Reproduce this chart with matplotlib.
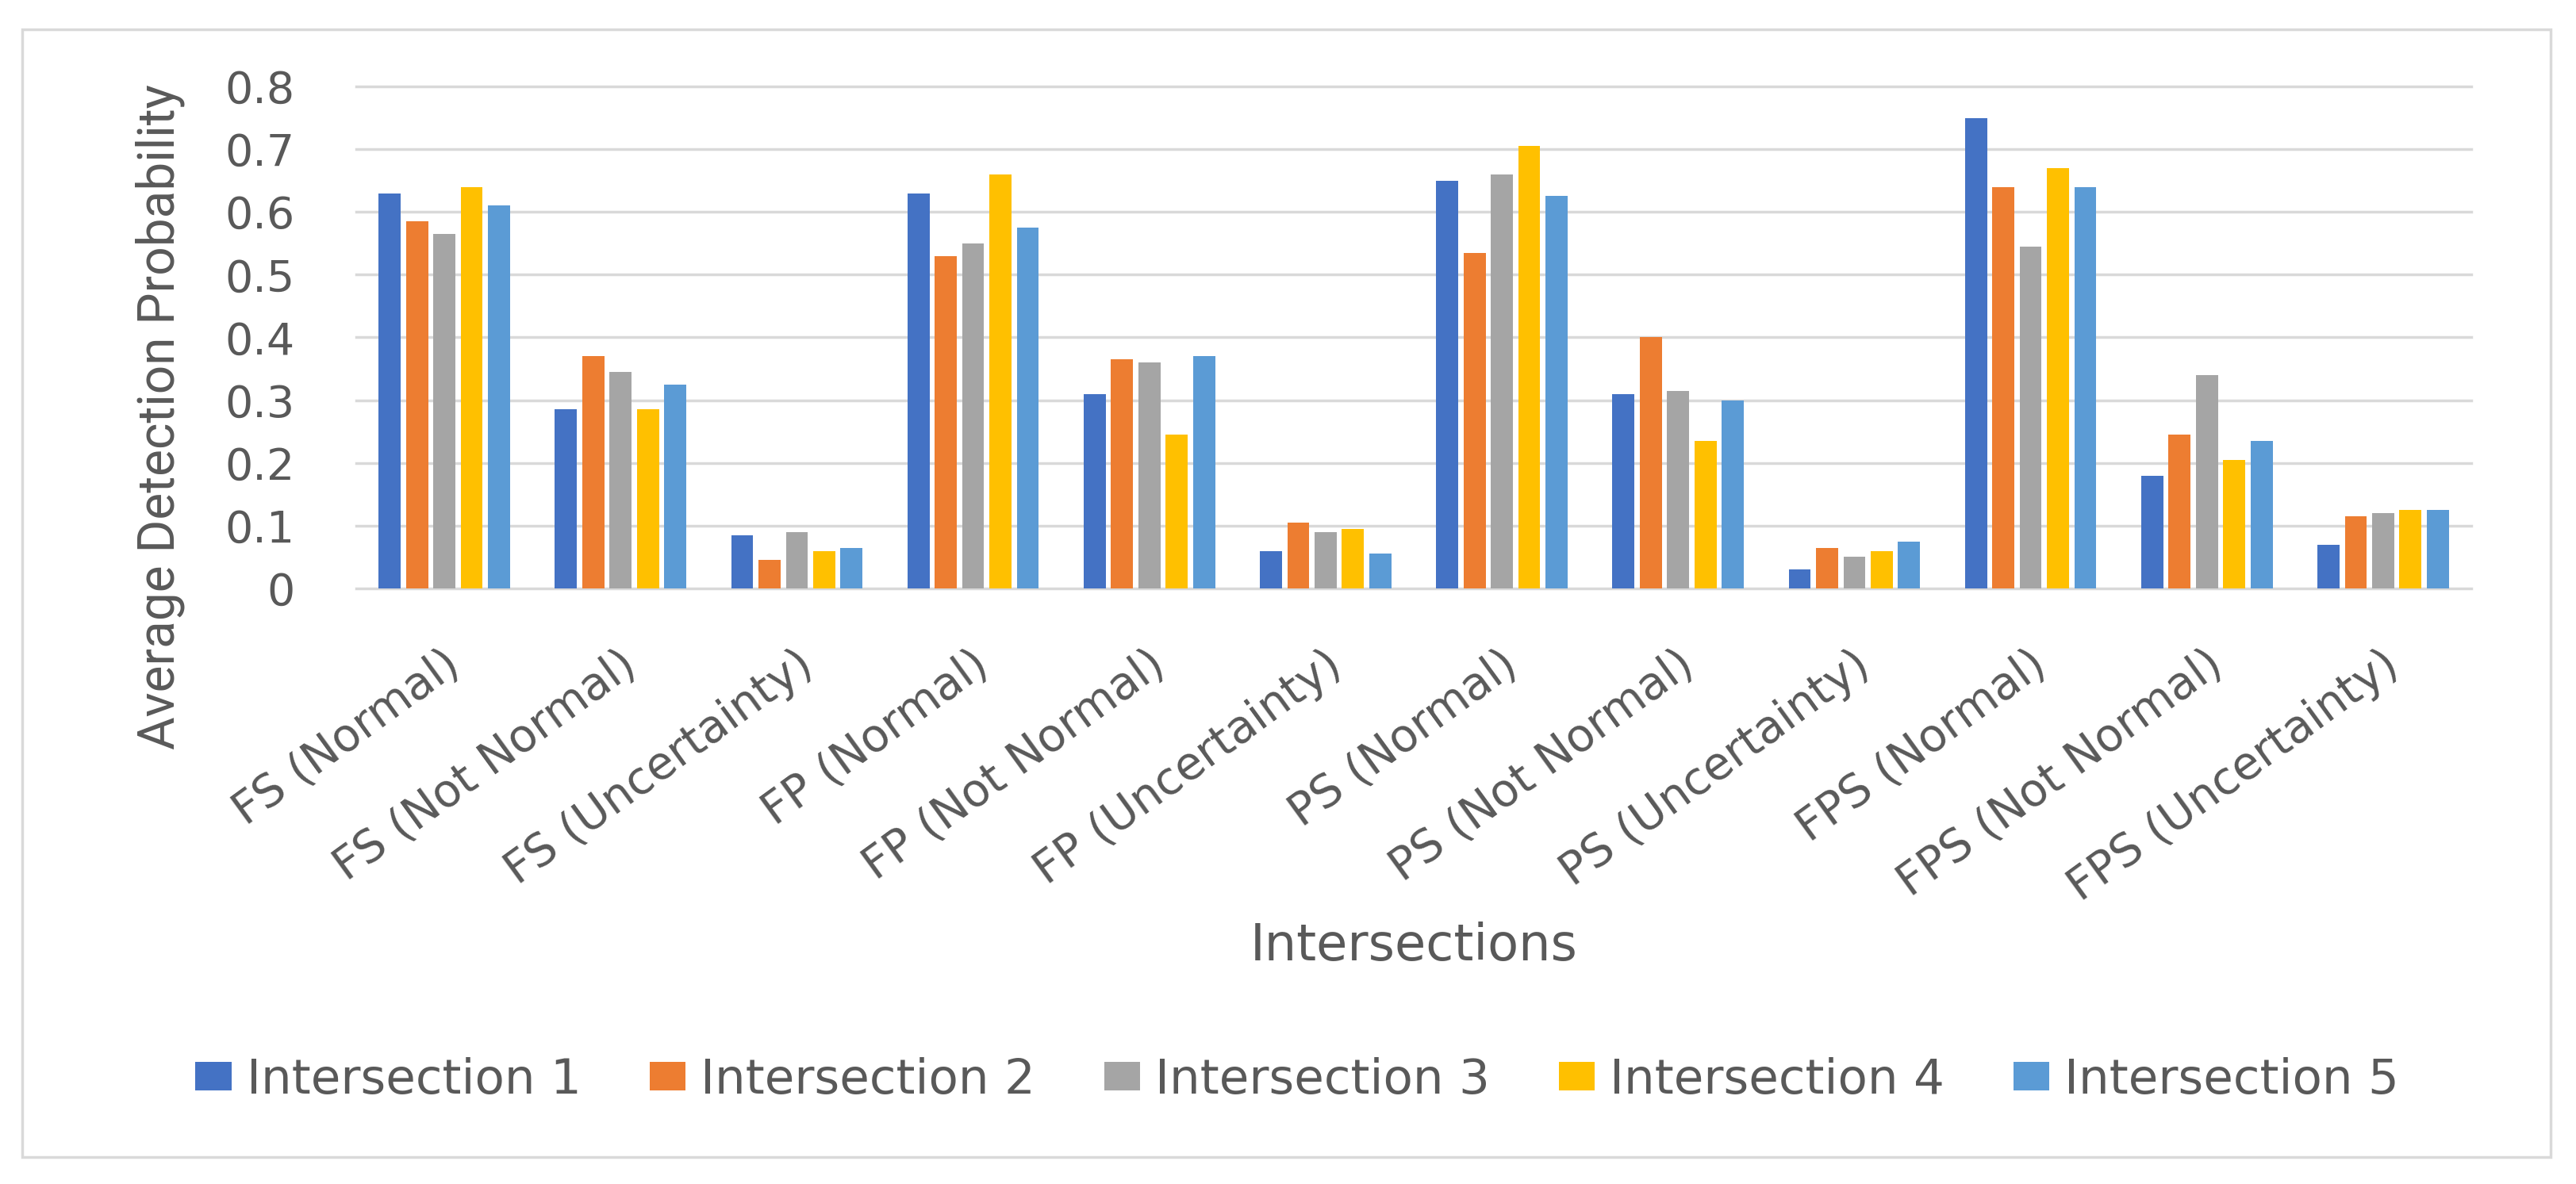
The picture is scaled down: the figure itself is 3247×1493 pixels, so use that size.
import matplotlib
matplotlib.use("Agg")
import matplotlib.pyplot as plt
import numpy as np
from matplotlib.patches import Rectangle, Patch
from matplotlib.transforms import ScaledTranslation
from matplotlib import font_manager

# ---------------- data ----------------
categories = ["FS (Normal)", "FS (Not Normal)", "FS (Uncertainty)",
              "FP (Normal)", "FP (Not Normal)", "FP (Uncertainty)",
              "PS (Normal)", "PS (Not Normal)", "PS (Uncertainty)",
              "FPS (Normal)", "FPS (Not Normal)", "FPS (Uncertainty)"]
series_names = ["Intersection 1", "Intersection 2", "Intersection 3",
                "Intersection 4", "Intersection 5"]
intersection1 = [0.63, 0.285, 0.085, 0.63, 0.31, 0.06, 0.65, 0.31, 0.03, 0.75, 0.18, 0.07]
intersection2 = [0.585, 0.37, 0.045, 0.53, 0.365, 0.105, 0.535, 0.40, 0.065, 0.64, 0.245, 0.115]
intersection3 = [0.565, 0.345, 0.09, 0.55, 0.36, 0.09, 0.66, 0.315, 0.05, 0.545, 0.34, 0.12]
intersection4 = [0.64, 0.285, 0.06, 0.66, 0.245, 0.095, 0.705, 0.235, 0.06, 0.67, 0.205, 0.125]
intersection5 = [0.61, 0.325, 0.065, 0.575, 0.37, 0.055, 0.625, 0.30, 0.075, 0.64, 0.235, 0.125]
yticks = [0, 0.1, 0.2, 0.3, 0.4, 0.5, 0.6, 0.7, 0.8]
ytick_labels = ["0", "0.1", "0.2", "0.3", "0.4", "0.5", "0.6", "0.7", "0.8"]
x_title = "Intersections"
y_title = "Average Detection Probability"

series_values = [intersection1, intersection2, intersection3, intersection4, intersection5]
colors = ["#4472C4", "#ED7D31", "#A5A5A5", "#FFC000", "#5B9BD5"]
text_color = "#595959"
grid_color = "#D9D9D9"

# ---------------- fonts ----------------
def has_font(name):
    try:
        font_manager.findfont(font_manager.FontProperties(family=name), fallback_to_default=False)
        return True
    except Exception:
        return False

main_font = "DejaVu Sans"
if has_font("Liberation Sans Narrow"):
    narrow_font, narrow_size = "Liberation Sans Narrow", 52
else:
    narrow_font, narrow_size = "Roboto", 46

# ---------------- figure ----------------
W, H, DPI = 3247, 1493, 100
fig = plt.figure(figsize=(W / DPI, H / DPI), dpi=DPI)
fig.patch.set_facecolor("white")

def fx(px):
    return px / W

def fy(py):
    return 1 - py / H

# chart border
fig.add_artist(Rectangle((fx(28), fy(1459)), fx(3215) - fx(28), (1459 - 37) / H,
                         transform=fig.transFigure, fill=False,
                         edgecolor=grid_color, lw=2.5))

ax = fig.add_axes([fx(449), fy(742), fx(3115) - fx(449), (742 - 109) / H])
xpos = np.arange(len(categories))
n = len(series_values)
pitch = 0.155
bar_w = 0.125
for i, (vals, name, col) in enumerate(zip(series_values, series_names, colors)):
    ax.bar(xpos + (i - (n - 1) / 2) * pitch, vals, width=bar_w, color=col,
           label=name, zorder=3)

ax.set_xlim(-0.5, len(categories) - 0.5)
ax.set_ylim(0, 0.8)
ax.set_yticks(yticks)
ax.set_yticklabels(ytick_labels, fontsize=40, color=text_color, family=main_font)
ax.yaxis.grid(True, color=grid_color, lw=2.5)
for gl in ax.get_ygridlines():
    gl.set_clip_on(False)
ax.set_axisbelow(True)
for s in ax.spines.values():
    s.set_visible(False)
ax.tick_params(axis="y", length=0, pad=56)
ax.tick_params(axis="x", length=0, pad=65)

ax.set_xticks(xpos)
ax.set_xticklabels(categories, rotation=36, ha="right", va="center",
                   rotation_mode="anchor", fontsize=41, color=text_color,
                   family=main_font)
shift = ScaledTranslation(14 / DPI, 0, fig.dpi_scale_trans)
for lab in ax.get_xticklabels():
    lab.set_transform(lab.get_transform() + shift)

# axis titles
fig.text(fx(202), fy(526), y_title, rotation=90, ha="center", va="center",
         fontsize=narrow_size, color=text_color, family=narrow_font)
fig.text(fx(1782), fy(1211), x_title, ha="center", va="baseline",
         fontsize=46, color=text_color, family=main_font)

# legend
handles = [Patch(facecolor=c, edgecolor="none") for c in colors]
leg = fig.legend(handles, series_names, loc="center", ncol=5,
                 bbox_to_anchor=(fx(1635), fy(1362)), frameon=False,
                 prop={"family": main_font, "size": 44},
                 handlelength=0.74, handleheight=0.52, handletextpad=0.31,
                 columnspacing=1.42, borderaxespad=0, borderpad=0)
for t in leg.get_texts():
    t.set_color(text_color)

fig.savefig("out.png", dpi=DPI, facecolor="white")
